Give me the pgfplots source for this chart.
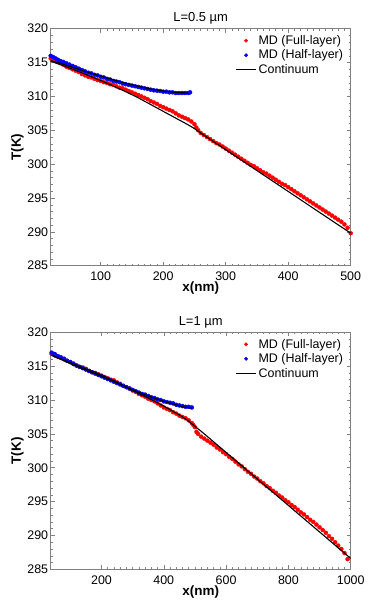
\documentclass[border=0pt]{standalone}
\usepackage{pgfplots}
\pgfplotsset{compat=1.18}
\usepackage{fontspec}
\setmainfont{Liberation Sans}
\definecolor{mdred}{RGB}{255,0,0}
\definecolor{mdblue}{RGB}{0,0,255}
\definecolor{axgray}{RGB}{128,128,128}
\pgfplotsset{
  myaxis/.style={
    scale only axis, width=300bp, height=237bp,
    clip mode=individual,
    ymin=285, ymax=320, ytick={285,290,...,320},
    minor y tick num=4,
    tick align=inside,
    axis line style={axgray, line width=0.6pt},
    every tick/.style={axgray, line width=0.5pt},
    major tick length=4bp, minor tick length=2bp,
    tick label style={font=\fontsize{12.5}{14}\selectfont, black},
    xticklabel style={yshift=-3bp},
    yticklabel style={xshift=1bp},
    /pgf/number format/assume math mode=true,
    /pgf/number format/1000 sep={},
    xlabel={\bfseries x(nm)}, ylabel={\bfseries T(K)},
    label style={font=\fontsize{13.5}{15}\selectfont},
    xlabel style={yshift=6bp},
    ylabel style={yshift=-3bp},
    title style={font=\fontsize{13}{15}\selectfont, yshift=-5bp},
    legend style={draw=none, fill=none, at={(0.985,0.985)}, anchor=north east,
      font=\fontsize{12.5}{14}\selectfont, row sep=0bp, inner sep=1bp},
    legend cell align=left,
    legend image code/.code={\draw[#1] (0bp,0bp) -- (20bp,0bp);},
  },
  redpts/.style={only marks, mark=*, mark size=2bp, color=mdred,
    legend image code/.code={\fill[mdred] (10bp,0bp) circle (1.7bp);}},
  bluepts/.style={only marks, mark=*, mark size=2bp, color=mdblue,
    legend image code/.code={\fill[mdblue] (10bp,0bp) circle (1.7bp);}},
  contline/.style={black, line width=1.1pt, no marks},
}
\begin{document}
\begin{tikzpicture}
\path[use as bounding box] (-50.7bp,-337.3bp) rectangle (340.3bp,265.7bp);
\begin{axis}[myaxis, at={(0,0)}, anchor=south west,
  xmin=20, xmax=500, xtick={100,200,...,500}, minor x tick num=9,
  title={L=0.5 µm}]
\addplot[redpts] table {
20 315.6
25 315.4
30 315.1
35 314.9
40 314.7
45 314.4
50 314.2
55 314.0
60 313.8
65 313.6
70 313.3
75 313.1
80 312.9
85 312.8
90 312.6
95 312.4
100 312.3
105 312.1
110 312.0
115 311.8
120 311.7
125 311.5
130 311.3
135 311.2
140 311.0
145 310.8
150 310.6
155 310.4
160 310.2
165 310.0
170 309.8
175 309.6
180 309.3
185 309.1
190 308.9
195 308.6
200 308.4
205 308.2
210 308.0
215 307.8
220 307.5
225 307.2
230 307.0
235 306.8
240 306.6
245 306.3
250 305.9
253 305.4
256 305.0
260 304.6
265 304.3
270 304.0
275 303.7
280 303.4
285 303.1
290 302.9
295 302.6
300 302.3
305 302.0
310 301.7
315 301.4
320 301.1
325 300.8
330 300.5
335 300.2
340 299.9
345 299.7
350 299.4
355 299.1
360 298.8
365 298.6
370 298.3
375 298.0
380 297.7
385 297.4
390 297.1
395 296.9
400 296.6
405 296.3
410 296.0
415 295.7
420 295.4
425 295.1
430 294.8
435 294.5
440 294.2
445 293.9
450 293.6
455 293.3
460 293.0
465 292.7
470 292.4
475 292.1
480 291.8
485 291.5
490 291.1
495 290.6
500 289.8
};
\addlegendentry{MD (Full-layer)}
\addplot[bluepts] table {
20 316.0
24 315.8
28 315.6
32 315.4
36 315.2
40 315.1
45 314.9
50 314.7
55 314.5
60 314.3
65 314.1
70 313.9
75 313.7
80 313.5
85 313.4
90 313.2
95 313.1
100 312.9
105 312.8
110 312.6
115 312.5
120 312.3
125 312.2
130 312.1
135 311.9
140 311.8
145 311.7
150 311.6
155 311.5
160 311.4
165 311.3
170 311.2
175 311.1
180 311.0
185 310.9
190 310.85
195 310.8
200 310.7
205 310.7
210 310.6
215 310.6
220 310.5
225 310.5
230 310.5
235 310.5
240 310.5
243 310.6
};
\addlegendentry{MD (Half-layer)}
\addplot[contline] table {
20 315.2
40 314.55
60 313.85
80 313.1
100 312.35
120 311.55
140 310.7
160 309.8
180 308.8
200 307.8
220 306.8
240 305.8
250 305.25
260 304.6
500 289.8
};
\addlegendentry{Continuum}
\addplot[contline, forget plot] table {
20 315.3
40 314.75
60 314.15
80 313.55
100 313.0
120 312.45
140 311.95
160 311.5
180 311.1
200 310.8
220 310.6
240 310.5
};
\end{axis}
\begin{axis}[myaxis, at={(0,-303.6bp)}, anchor=south west,
  xmin=37, xmax=1000, xtick={200,400,...,1000}, minor x tick num=9,
  title={L=1 µm}]
\addplot[redpts] table {
40 316.8
50 316.6
60 316.4
70 316.2
80 316.0
90 315.8
100 315.6
110 315.4
120 315.1
130 314.9
140 314.8
150 314.6
160 314.3
170 314.1
180 314.0
190 313.8
200 313.6
210 313.4
220 313.2
230 313.0
240 312.9
250 312.6
260 312.4
270 312.1
280 311.9
290 311.7
300 311.4
310 311.2
320 310.9
330 310.7
340 310.5
350 310.2
360 310.0
370 309.8
380 309.5
390 309.2
400 308.9
410 308.7
420 308.5
430 308.2
440 308.0
450 307.7
460 307.5
470 307.3
480 307.0
490 306.6
495 306.3
500 306.0
505 305.3
510 305.0
520 304.6
530 304.3
540 304.0
550 303.7
560 303.4
570 303.0
580 302.7
590 302.3
600 302.0
610 301.6
620 301.3
630 300.9
640 300.5
650 300.2
660 299.8
670 299.4
680 299.1
690 298.7
700 298.4
710 298.0
720 297.7
730 297.3
740 297.0
750 296.6
760 296.3
770 295.9
780 295.6
790 295.2
800 294.9
810 294.5
820 294.2
830 293.8
840 293.4
850 293.1
860 292.7
870 292.3
880 292.0
890 291.6
900 291.2
910 290.8
920 290.4
930 289.9
940 289.5
950 289.0
960 288.5
970 288.0
980 287.4
990 286.5
};
\addlegendentry{MD (Full-layer)}
\addplot[bluepts] table {
40 317.0
50 316.8
60 316.5
70 316.3
80 316.1
90 315.8
100 315.6
110 315.3
120 315.1
130 314.9
140 314.7
150 314.5
160 314.3
170 314.1
180 313.9
190 313.7
200 313.5
210 313.3
220 313.1
230 312.9
240 312.7
250 312.5
260 312.3
270 312.1
280 311.9
290 311.7
300 311.5
310 311.3
320 311.1
330 310.9
340 310.8
350 310.6
360 310.4
370 310.3
380 310.1
390 310.0
400 309.8
410 309.7
420 309.6
430 309.5
440 309.3
450 309.2
460 309.1
470 309.0
480 309.0
490 308.9
};
\addlegendentry{MD (Half-layer)}
\addplot[contline] table {
40 316.6
100 315.5
150 314.6
200 313.7
250 312.6
300 311.4
350 310.3
400 309.1
450 307.8
475 307.05
495 306.3
510 305.75
530 305.0
1000 286.6
};
\addlegendentry{Continuum}
\addplot[contline, forget plot] table {
40 316.6
100 315.4
150 314.4
200 313.5
250 312.5
300 311.5
350 310.6
400 309.8
430 309.4
460 309.0
490 308.8
};
\end{axis}
\end{tikzpicture}
\end{document}
